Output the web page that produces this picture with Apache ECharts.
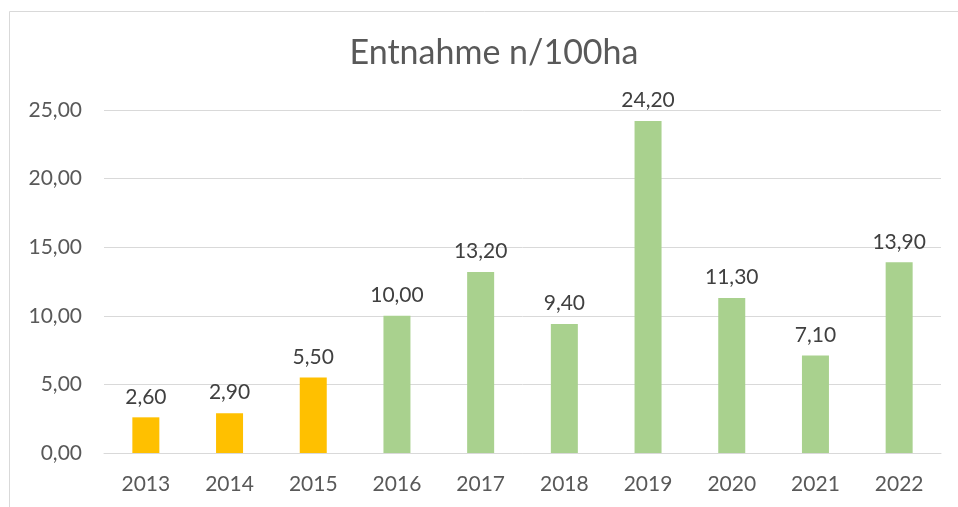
<!DOCTYPE html>
<html>
<head>
<meta charset="utf-8" />
<title>Entnahme n/100ha</title>
<script src="https://cdn.jsdelivr.net/npm/echarts@6/dist/echarts.min.js"></script>
<style>
  html, body { margin: 0; padding: 0; background: #fff; }
  #chart { width: 958px; height: 507px; }
</style>
</head>
<body>
<div id="chart"></div>
<script>
// Daten
var years = ['2013', '2014', '2015', '2016', '2017', '2018', '2019', '2020', '2021', '2022'];
var entnahme = [2.6, 2.9, 5.5, 10.0, 13.2, 9.4, 24.2, 11.3, 7.1, 13.9];
var yTicks = [0, 5, 10, 15, 20, 25];

var gelb = '#FFC000';
var gruen = '#A9D18E';
var font = 'Lato, "Open Sans", sans-serif';

function komma(v) {
  return v.toFixed(2).replace('.', ',');
}

var chart = echarts.init(document.getElementById('chart'));

chart.setOption({
  animation: false,
  title: {
    text: 'Entnahme n/100ha',
    left: 489,
    top: 31,
    textAlign: 'center',
    textStyle: { fontFamily: font, fontSize: 34, fontWeight: 'normal', color: '#595959' }
  },
  graphic: [{
    type: 'rect',
    shape: { x: 9.5, y: 11.5, width: 1000, height: 600 },
    style: { fill: 'none', stroke: '#D9D9D9', lineWidth: 1 },
    silent: true
  }],
  grid: { left: 104, right: 17, top: 110, bottom: 54 },
  xAxis: {
    type: 'category',
    data: years,
    axisLine: { lineStyle: { color: '#D9D9D9', width: 1 } },
    axisTick: { show: false },
    axisLabel: { fontFamily: font, fontSize: 21, color: '#595959', margin: 21 }
  },
  yAxis: {
    type: 'value',
    min: yTicks[0],
    max: yTicks[yTicks.length - 1],
    interval: 5,
    axisLine: { show: false },
    axisTick: { show: false },
    splitLine: { lineStyle: { color: '#D9D9D9', width: 1 } },
    axisLabel: {
      fontFamily: font, fontSize: 21, color: '#595959', margin: 22,
      formatter: function (v) { return komma(v); }
    }
  },
  series: [{
    type: 'bar',
    barWidth: 27,
    data: entnahme.map(function (v, i) {
      return { value: v, itemStyle: { color: i < 3 ? gelb : gruen } };
    }),
    label: {
      show: true,
      position: 'top',
      distance: 10,
      fontFamily: font,
      fontSize: 21,
      color: '#404040',
      formatter: function (p) { return komma(p.value); }
    }
  }]
});
</script>
</body>
</html>
